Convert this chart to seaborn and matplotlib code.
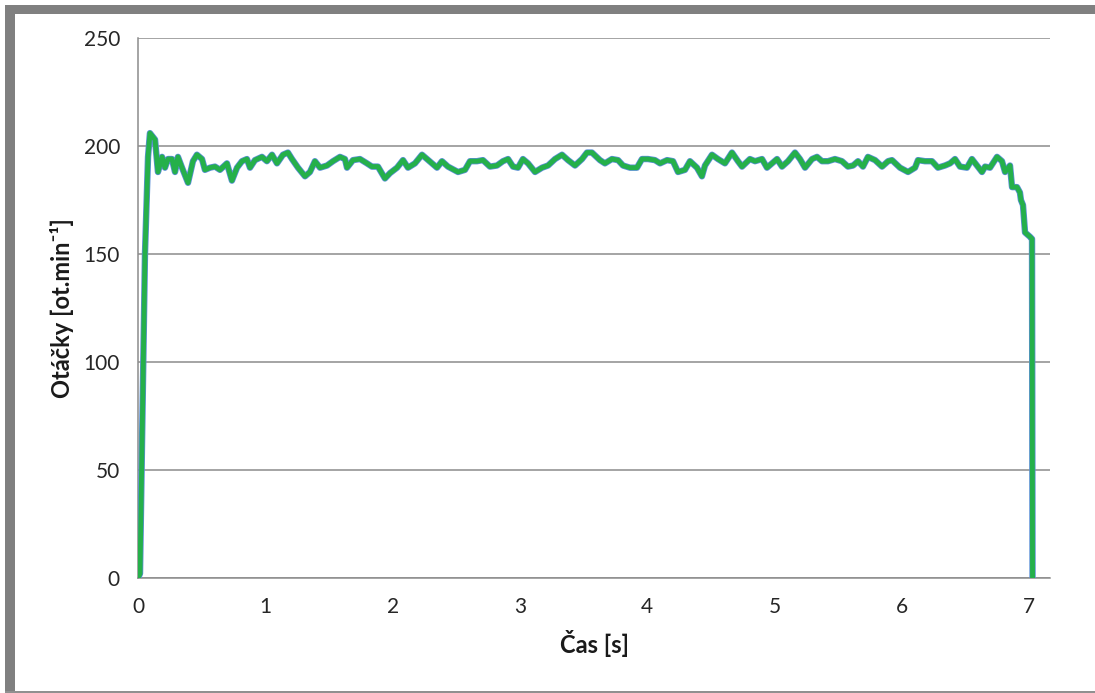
import matplotlib
matplotlib.use('Agg')
import matplotlib.pyplot as plt
import seaborn as sns
import pandas as pd
from matplotlib.patches import Rectangle

# time [s] and speed [rpm]
cas = [0.000, 0.016, 0.055, 0.079, 0.094, 0.134, 0.157, 0.189, 0.212, 0.236,
       0.267, 0.291, 0.314, 0.346, 0.393, 0.432, 0.463, 0.503, 0.526, 0.566,
       0.605, 0.644, 0.699, 0.738, 0.778, 0.817, 0.856, 0.880, 0.919, 0.974,
       1.013, 1.053, 1.092, 1.139, 1.178, 1.210, 1.257, 1.312, 1.351, 1.390,
       1.430, 1.485, 1.532, 1.587, 1.626, 1.642, 1.689, 1.744, 1.799, 1.838,
       1.885, 1.940, 1.980, 2.035, 2.082, 2.121, 2.176, 2.231, 2.270, 2.310,
       2.349, 2.388, 2.435, 2.514, 2.569, 2.608, 2.663, 2.710, 2.765, 2.820,
       2.867, 2.907, 2.946, 2.985, 3.024, 3.064, 3.119, 3.174, 3.221, 3.276,
       3.331, 3.378, 3.433, 3.488, 3.527, 3.566, 3.629, 3.668, 3.723, 3.771,
       3.810, 3.865, 3.920, 3.959, 4.006, 4.061, 4.101, 4.156, 4.203, 4.242,
       4.297, 4.336, 4.391, 4.430, 4.454, 4.509, 4.556, 4.611, 4.666, 4.713,
       4.745, 4.807, 4.847, 4.902, 4.941, 4.980, 5.020, 5.059, 5.106, 5.161,
       5.200, 5.240, 5.295, 5.334, 5.373, 5.420, 5.475, 5.530, 5.577, 5.617,
       5.656, 5.695, 5.734, 5.790, 5.845, 5.892, 5.923, 5.986, 6.049, 6.104,
       6.127, 6.182, 6.237, 6.284, 6.339, 6.379, 6.418, 6.457, 6.512, 6.551,
       6.591, 6.630, 6.654, 6.693, 6.748, 6.787, 6.811, 6.850, 6.866, 6.905,
       6.928, 6.936, 6.952, 6.968, 7.007, 7.023, 7.027]
otacky = [0, 2, 150, 195, 206, 203, 188, 195, 190, 194,
          194, 188, 195, 190, 183, 193, 196, 194, 189, 190,
          190.5, 189, 192, 184, 190, 193, 194, 190, 193.5, 195,
          193, 196, 192, 196, 197, 194, 190, 186, 188, 193,
          190, 191, 193, 195, 194, 190, 193.5, 194, 192, 190.5,
          190.5, 185, 187.5, 190, 193.5, 190, 192, 196, 194, 192,
          190, 193, 190.5, 188, 189, 193, 193, 193.5, 190.5, 191,
          193, 194, 190.5, 190, 194, 192, 188, 190, 191, 194,
          196, 193.5, 191, 194, 197, 197, 193.5, 192, 194, 193.5,
          191, 190, 190, 194, 194, 193.5, 192, 193.5, 193, 188,
          189, 193, 190, 186, 191, 196, 194, 192, 197, 193,
          190.5, 194, 193, 194, 190, 192, 194, 190.5, 193, 197,
          194, 190, 194, 195, 193, 193, 194, 193, 190.5, 191,
          193, 190.5, 195, 193.5, 190.5, 193, 193.5, 190, 188, 190,
          193.5, 193, 193, 190, 191, 192, 194, 190.5, 190, 194,
          191, 188, 190.5, 190, 195, 193, 188, 191, 181, 181,
          178.5, 175, 172.7, 160, 158, 157, 0]

x_ticks = [0, 1, 2, 3, 4, 5, 6, 7]
y_ticks = [0, 50, 100, 150, 200, 250]

df = pd.DataFrame({'Čas': cas, 'Otáčky': otacky})

sns.set_style('white')
plt.rcParams['font.family'] = ['Lato', 'DejaVu Sans']

fig = plt.figure(figsize=(10.95, 6.93), dpi=100)
ax = fig.add_axes([0.126, 0.166, 0.833, 0.779])

grid_col = '#8c8c8c'

# blue edge under the green line, like the original
sns.lineplot(data=df, x='Čas', y='Otáčky', sort=False, estimator=None,
             color='#5b8fd6', linewidth=4.6, ax=ax, zorder=3,
             solid_joinstyle='round', solid_capstyle='round')
sns.lineplot(data=df, x='Čas', y='Otáčky', sort=False, estimator=None,
             color='#25b04a', linewidth=3.5, ax=ax, zorder=4,
             solid_joinstyle='round', solid_capstyle='round')

ax.set_xlim(0, 7.165)
ax.set_ylim(0, 250)
ax.set_xticks(x_ticks)
ax.set_yticks(y_ticks)
ax.yaxis.grid(True, color=grid_col, linewidth=1.1)
ax.set_axisbelow(True)

for side in ['top', 'right']:
    ax.spines[side].set_visible(False)
for side in ['left', 'bottom']:
    ax.spines[side].set_color(grid_col)
    ax.spines[side].set_linewidth(1.1)

ax.tick_params(axis='both', direction='out', length=5, width=1.1,
               color=grid_col, labelsize=15, labelcolor='#262626')
ax.tick_params(axis='y', pad=8)
ax.tick_params(axis='x', pad=9)

ax.set_xlabel('Čas [s]', fontsize=17, fontweight='bold', color='#1a1a1a', labelpad=9)
ax.set_ylabel('Otáčky [ot.min⁻¹]', fontsize=17, fontweight='bold', color='#1a1a1a', labelpad=7)

# grey frame around the chart
W, H = 1095, 693
fig.patches.append(Rectangle((5 / W, 0), 10 / W, 1 - 5 / H, transform=fig.transFigure,
                             facecolor='#808080', edgecolor='none'))
fig.patches.append(Rectangle((5 / W, 1 - 14 / H), 1 - 5 / W, 9 / H, transform=fig.transFigure,
                             facecolor='#808080', edgecolor='none'))
fig.patches.append(Rectangle((5 / W, 0), 1 - 5 / W, 2 / H, transform=fig.transFigure,
                             facecolor='#909090', edgecolor='none'))

fig.savefig('out.png', dpi=100)
